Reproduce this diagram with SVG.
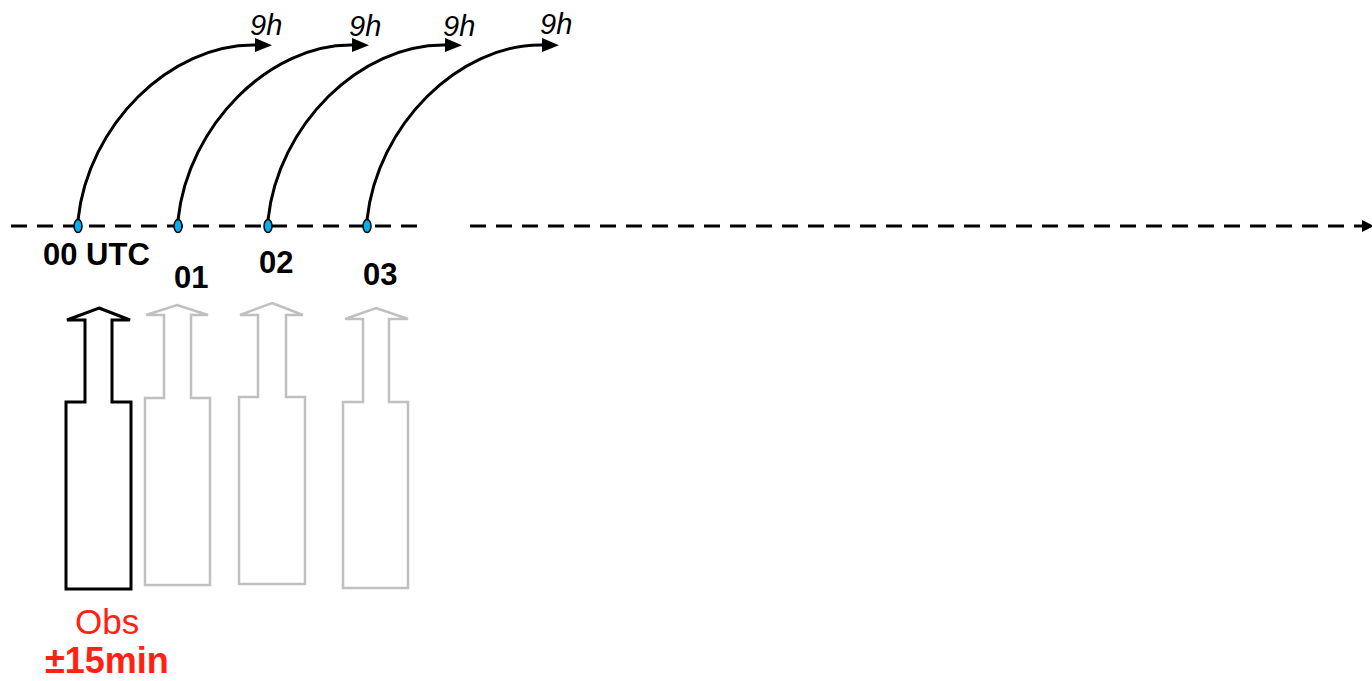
<svg xmlns="http://www.w3.org/2000/svg" width="1372" height="681" viewBox="0 0 1372 681">
<style>
.axis{stroke:#000;stroke-width:3;stroke-dasharray:16 10;fill:none}
.curve{stroke:#000;stroke-width:3;fill:none;marker-end:url(#ah)}
.dot{fill:#00B0F0;stroke:#000;stroke-width:1.5}
.lbl{font-family:"Liberation Sans",Arial,sans-serif;font-weight:bold;font-size:31px;fill:#000}
.h9{font-family:"Liberation Sans",Arial,sans-serif;font-style:italic;font-size:29px;fill:#000}
.blk{fill:#fff;stroke:#000;stroke-width:3;stroke-linejoin:miter}
.gry{fill:#fff;stroke:#C0C0C0;stroke-width:2.5;stroke-linejoin:miter}
.obs{font-family:"Liberation Sans",Arial,sans-serif;fill:#FF2212}
</style>
<defs>
<marker id="ah" markerUnits="userSpaceOnUse" markerWidth="18" markerHeight="16" refX="0" refY="7" orient="auto">
<path d="M0,0 L17,7 L0,14 z" fill="#000"/>
</marker>
<marker id="ah2" markerUnits="userSpaceOnUse" markerWidth="14" markerHeight="14" refX="0" refY="7" orient="auto">
<path d="M0,1 L12,7 L0,13 z" fill="#000"/>
</marker>
</defs>
<rect width="1372" height="681" fill="#fff"/>
<g id="connectors">
<line class="axis" x1="11" y1="226" x2="424" y2="226"/>
<line class="axis" x1="470" y1="226" x2="1362" y2="226" marker-end="url(#ah2)"/>
<path class="curve" d="M78,220 c10,-95 92,-176 177,-175"/>
<path class="curve" d="M178,220 c10,-95 92,-176 174,-175"/>
<path class="curve" d="M268,220 c10,-95 92,-176 177,-175"/>
<path class="curve" d="M367,220 c10,-95 92,-176 175,-175"/>
</g>
<g id="t00"><ellipse class="dot" cx="78" cy="226" rx="4" ry="6.5"/><text class="lbl" x="43" y="265" font-size="32">00 UTC</text></g>
<g id="t01"><ellipse class="dot" cx="178" cy="226" rx="4" ry="6.5"/><text class="lbl" x="174" y="288">01</text></g>
<g id="t02"><ellipse class="dot" cx="268" cy="226" rx="4" ry="6.5"/><text class="lbl" x="259" y="273">02</text></g>
<g id="t03"><ellipse class="dot" cx="367" cy="226" rx="4" ry="6.5"/><text class="lbl" x="363" y="285">03</text></g>
<g id="h1"><text class="h9" x="250" y="35">9h</text></g>
<g id="h2"><text class="h9" x="349" y="36">9h</text></g>
<g id="h3"><text class="h9" x="443" y="36">9h</text></g>
<g id="h4"><text class="h9" x="540" y="34">9h</text></g>
<g id="obs0"><path class="blk" d="M99,308 L130,320 L112,320 L112,402 L131,402 L131,589 L66,589 L66,402 L85,402 L85,320 L67,320 Z"/></g>
<g id="obs1"><path class="gry" d="M177,305 L208,315 L191,315 L191,398 L210,398 L210,585 L145,585 L145,398 L164,398 L164,315 L146,315 Z"/></g>
<g id="obs2"><path class="gry" d="M272,303 L303,315 L286,315 L286,397 L305,397 L305,584 L239,584 L239,397 L258,397 L258,315 L240,315 Z"/></g>
<g id="obs3"><path class="gry" d="M376,308 L408,319 L389,319 L389,402 L408,402 L408,588 L343,588 L343,402 L363,402 L363,319 L345,319 Z"/></g>
<g id="obslabel">
<text class="obs" x="75" y="634" font-size="35">Obs</text>
<text class="obs" x="45" y="673" font-size="36" font-weight="bold">±15min</text>
</g>
</svg>
